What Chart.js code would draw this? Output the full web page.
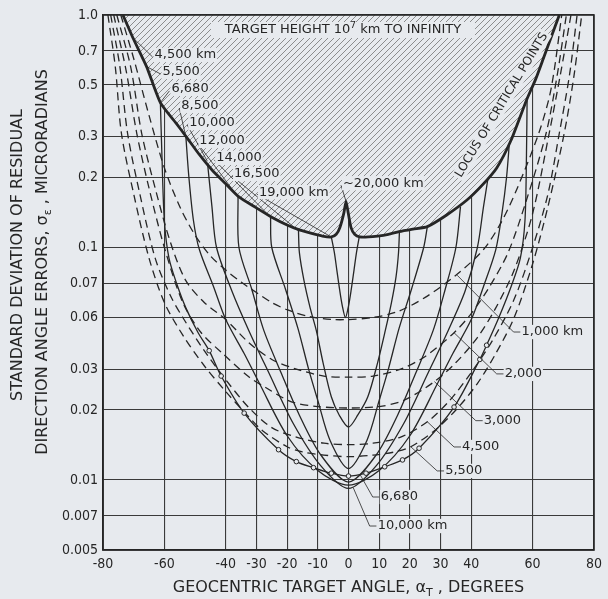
<!DOCTYPE html>
<html>
<head>
<meta charset="utf-8">
<script src="https://cdn.jsdelivr.net/npm/chart.js@4/dist/chart.umd.min.js"></script>
<style>
  html, body { margin: 0; padding: 0; background: #e7eaee; }
  canvas { display: block; }
</style>
</head>
<body>
<canvas id="chart" width="608" height="599"></canvas>
<script>
// tick positions and labels
const X_TICKS = [-80, -60, -40, -30, -20, -10, 0, 10, 20, 30, 40, 60, 80];
const Y_TICKS = [0.005, 0.007, 0.01, 0.02, 0.03, 0.05, 0.07, 0.1, 0.2, 0.3, 0.5, 0.7, 1.0];
const Y_TICK_LABELS = ['0.005', '0.007', '0.01', '0.02', '0.03', '0.06', '0.07', '0.1', '0.2', '0.3', '0.5', '0.7', '1.0'];

// locus of critical points  [angle deg, sigma microrad]
const LOCUS = [[-73.5,1.0],[-70.3,0.8],[-65.8,0.6],[-61.3,0.42],[-56,0.34],[-52.9,0.30],[-48.5,0.25],[-44.4,0.215],
  [-40,0.188],[-35.7,0.165],[-30,0.148],[-25,0.135],[-20,0.125],[-16,0.119],[-12,0.115],[-8.5,0.112],[-5.6,0.111],
  [-4,0.114],[-2.8,0.122],[-1.5,0.141],[-0.8,0.158],[-0.1,0.141],[0.8,0.122],[2,0.114],[3.7,0.111],[6.5,0.111],
  [9.5,0.112],[13,0.114],[16.5,0.117],[21,0.12],[25.7,0.123],[32,0.138],[38.6,0.16],[43.5,0.185],[48.3,0.22],
  [53,0.29],[58,0.43],[61,0.53],[63.5,0.65],[66,0.8],[68.7,1.0]];

// dashed curves (low target heights)
const H1000 = [[-74.2,1.0],[-70,0.65],[-65,0.37],[-60,0.22],[-55,0.15],[-50,0.113],[-45,0.092],[-40,0.080],[-35,0.071],
  [-30,0.064],[-25,0.058],[-20,0.054],[-13,0.0505],[-5,0.049],[0,0.049],[8,0.050],[16,0.053],[25,0.061],[35,0.076],
  [44,0.098],[50,0.13],[55,0.18],[62,0.31],[66,0.48],[69.5,1.0]];
const H2000 = [[-75.5,1.0],[-71,0.6],[-67.4,0.31],[-63,0.18],[-58,0.105],[-53,0.072],[-47,0.058],[-40,0.049],
  [-32.5,0.039],[-25,0.033],[-17,0.030],[-8,0.028],[0,0.0277],[8,0.028],[17,0.030],[25,0.034],[34.4,0.043],
  [40,0.052],[46,0.068],[52,0.095],[58,0.16],[64.4,0.31],[68,0.55],[71,1.0]];
const H3000 = [[-76.5,1.0],[-72.5,0.58],[-69,0.31],[-65,0.18],[-60,0.10],[-54,0.058],[-48,0.043],[-41,0.035],
  [-32.5,0.0278],[-27,0.025],[-18.6,0.0217],[-10,0.0207],[0,0.0204],[10,0.0207],[18,0.022],[28,0.0265],[35,0.032],
  [42,0.041],[48,0.055],[54,0.08],[60,0.14],[65.4,0.31],[69,0.55],[72.5,1.0]];
const H4500 = [[-77.5,1.0],[-74.5,0.6],[-72,0.31],[-68,0.17],[-63,0.09],[-58,0.062],[-54,0.05],[-47,0.036],[-40,0.027],
  [-32.5,0.0205],[-25,0.0168],[-17,0.0153],[-8,0.0144],[0,0.0142],[8,0.0144],[17,0.0153],[25.7,0.0178],[33,0.022],
  [40,0.029],[47,0.04],[54,0.06],[60,0.1],[65,0.17],[68.7,0.31],[72,0.55],[74.5,1.0]];
const H5500 = [[-78.4,1.0],[-76,0.6],[-74,0.31],[-70,0.17],[-65,0.09],[-60,0.058],[-54,0.042],[-47,0.031],[-40,0.024],
  [-33,0.019],[-28,0.0163],[-20,0.0139],[-15,0.0132],[-8,0.0128],[0,0.0126],[8,0.0128],[15,0.0132],[20.3,0.0139],
  [28,0.0163],[35,0.02],[42,0.026],[48,0.035],[54,0.05],[60,0.085],[65,0.15],[70.3,0.31],[73.5,0.55],[76,1.0]];

// solid curves, each starts and ends on the locus
const H6680 = [[-61.3,0.42],[-60.8,0.25],[-60,0.13],[-58.5,0.09],[-56,0.07],[-53,0.055],[-49,0.043],[-45.4,0.036],
  [-41.5,0.028],[-34,0.0194],[-22.8,0.0135],[-17,0.012],[-11.4,0.0113],[-5.6,0.0107],[0,0.0104],[5.7,0.0107],
  [11.8,0.0114],[17.6,0.0122],[23,0.0137],[34.4,0.0206],[42.8,0.033],[45,0.038],[49,0.05],[53,0.068],[56,0.09],
  [57.5,0.13],[58,0.25],[58.2,0.43]];
const H8500 = [[-53,0.30],[-52,0.2],[-50.5,0.13],[-48.6,0.098],[-44,0.068],[-40,0.049],[-34,0.035],[-29,0.026],
  [-20,0.0155],[-10,0.011],[0,0.0095],[10,0.011],[20,0.0155],[29,0.026],[34,0.035],[40,0.049],[44,0.068],[48,0.098],
  [50,0.14],[51.5,0.2],[52.5,0.29]];
const H10000 = [[-46,0.235],[-44.5,0.15],[-43,0.1],[-38,0.065],[-32.5,0.044],[-26,0.029],[-18,0.0175],[-9,0.0115],
  [0,0.0092],[9,0.0115],[18,0.0175],[26,0.029],[32.5,0.044],[38,0.065],[42,0.1],[44,0.15],[45.5,0.2]];
const H12000 = [[-36,0.165],[-35.7,0.1],[-31.5,0.066],[-27.6,0.044],[-22,0.029],[-16,0.019],[-9,0.0128],[0,0.0098],
  [9,0.0128],[16,0.019],[22,0.029],[27.6,0.044],[31.5,0.066],[35,0.1],[36.5,0.15]];
const H14000 = [[-25.4,0.135],[-25,0.1],[-20.5,0.066],[-16.5,0.045],[-13,0.03],[-10,0.022],[-6,0.0148],[0,0.0112],
  [6,0.0148],[10,0.022],[13,0.03],[16.5,0.045],[20.5,0.066],[24.5,0.1],[25.7,0.123]];
const H16500 = [[-16.3,0.118],[-16,0.095],[-14.5,0.072],[-12.5,0.055],[-10.5,0.044],[-8.3,0.032],[-5.6,0.0228],
  [-3,0.019],[0,0.0169],[3,0.019],[6.3,0.0228],[9.5,0.032],[12,0.044],[14,0.058],[15.5,0.075],[16.3,0.095],[16.6,0.117]];
const H19000 = [[-5.6,0.111],[-4.6,0.095],[-3.8,0.08],[-2.9,0.066],[-2,0.056],[-1,0.05],[0,0.056],[0.9,0.066],
  [1.8,0.08],[2.6,0.095],[3.5,0.111]];

// annotations: [text, label x, label y, curve x, curve y]
const LEFT_NOTES = [
  ['4,500 km', -63.2, 0.673, -70.3, 0.8],
  ['5,500', -60.6, 0.569, -65.8, 0.6],
  ['6,680', -57.7, 0.481, -61.3, 0.42],
  ['8,500', -54.5, 0.406, -53, 0.30],
  ['10,000', -51.9, 0.343, -46, 0.235],
  ['12,000', -48.6, 0.287, -36, 0.165],
  ['14,000', -43.1, 0.243, -25.4, 0.135],
  ['16,500', -37.3, 0.207, -16.3, 0.118],
  ['19,000 km', -29.2, 0.173, -5.6, 0.111],
  ['~20,000 km', -1.8, 0.189, -0.8, 0.158]
];
const RIGHT_NOTES = [
  ['1,000 km', 56.4, 0.0433, 35.4, 0.076],
  ['2,000', 50.9, 0.0286, 34.4, 0.043],
  ['3,000', 44.1, 0.0180, 28, 0.0265],
  ['4,500', 37.0, 0.01387, 25.7, 0.0178],
  ['5,500', 31.5, 0.01094, 20.3, 0.0139],
  ['6,680', 10.5, 0.00845, 3.7, 0.0106],
  ['10,000 km', 9.5, 0.00634, 1.5, 0.0093]
];

const INK = '#262626';
const PAPER = '#e7eaee';
const FONT = "'DejaVu Sans', sans-serif";

// hatch pattern for the region above the locus
function makeHatch(ctx) {
    const tile = document.createElement('canvas');
    tile.width = 6;
    tile.height = 6;
    const t = tile.getContext('2d');
    t.fillStyle = PAPER;
    t.fillRect(0, 0, 6, 6);
    t.strokeStyle = '#747474';
    t.lineWidth = 0.8;
    t.beginPath();
    t.moveTo(0, 6); t.lineTo(6, 0);
    t.moveTo(-1, 1); t.lineTo(1, -1);
    t.moveTo(5, 7); t.lineTo(7, 5);
    t.stroke();
    return ctx.createPattern(tile, 'repeat');
}

function pts(list) {
    return list.map(p => ({ x: p[0], y: p[1] }));
}

function solid(list, width) {
    return {
        data: pts(list),
        showLine: true,
        borderColor: INK,
        borderWidth: width || 1.3,
        pointRadius: 0,
        tension: 0.3,
        fill: false
    };
}

function dashed(list) {
    const ds = solid(list, 1.3);
    ds.borderDash = [8, 5];
    return ds;
}

// text with sub/superscripts: parts = [[text, kind]], kind 0 normal, 1 sub, 2 sup
function drawRich(ctx, parts, x, y, size, align) {
    const small = Math.round(size * 0.7);
    let total = 0;
    parts.forEach(([t, k]) => {
        ctx.font = (k ? small : size) + 'px ' + FONT;
        total += ctx.measureText(t).width;
    });
    let cx = align === 'center' ? x - total / 2 : x;
    ctx.textAlign = 'left';
    ctx.textBaseline = 'middle';
    parts.forEach(([t, k]) => {
        ctx.font = (k ? small : size) + 'px ' + FONT;
        const dy = k === 1 ? size * 0.3 : (k === 2 ? -size * 0.35 : 0);
        ctx.fillText(t, cx, y + dy);
        cx += ctx.measureText(t).width;
    });
    return total;
}

function boxedText(ctx, text, x, y, size) {
    ctx.font = size + 'px ' + FONT;
    const w = ctx.measureText(text).width;
    ctx.fillStyle = PAPER;
    ctx.fillRect(x - 1, y - size * 0.55, w + 2, size * 1.1);
    ctx.fillStyle = INK;
    ctx.textAlign = 'left';
    ctx.textBaseline = 'middle';
    ctx.fillText(text, x, y);
}

const notesPlugin = {
    id: 'notes',
    afterDatasetsDraw(chart) {
        const { ctx, chartArea: a, scales } = chart;
        const X = v => scales.x.getPixelForValue(v);
        const Y = v => scales.y.getPixelForValue(v);
        ctx.save();

        // frame
        ctx.strokeStyle = INK;
        ctx.lineWidth = 1.6;
        ctx.strokeRect(a.left, a.top, a.right - a.left, a.bottom - a.top);

        // leaders
        ctx.lineWidth = 0.8;
        ctx.beginPath();
        LEFT_NOTES.forEach(n => {
            ctx.moveTo(X(n[1]) - 2, Y(n[2]) + 2);
            ctx.lineTo(X(n[3]), Y(n[4]));
        });
        RIGHT_NOTES.forEach(n => {
            ctx.moveTo(X(n[3]), Y(n[4]));
            ctx.lineTo(X(n[1]) - 8, Y(n[2]));
            ctx.lineTo(X(n[1]) - 1, Y(n[2]));
        });
        ctx.stroke();

        LEFT_NOTES.forEach(n => boxedText(ctx, n[0], X(n[1]), Y(n[2]), 13));
        RIGHT_NOTES.forEach(n => boxedText(ctx, n[0], X(n[1]), Y(n[2]), 13));

        // note at top of hatched area
        const tx = X(-1.8), ty = Y(0.862);
        ctx.fillStyle = PAPER;
        ctx.fillRect(tx - 132, ty - 8, 264, 16);
        ctx.fillStyle = INK;
        drawRich(ctx, [['TARGET HEIGHT 10', 0], ['7', 2], [' km TO INFINITY', 0]], tx, ty, 13, 'center');

        // locus label, rotated along the curve
        ctx.save();
        ctx.translate(X(49.9), Y(0.41));
        ctx.rotate(-58.7 * Math.PI / 180);
        ctx.font = '12px ' + FONT;
        const lw = ctx.measureText('LOCUS OF CRITICAL POINTS').width;
        ctx.fillStyle = PAPER;
        ctx.fillRect(-lw / 2 - 2, -7, lw + 4, 14);
        ctx.fillStyle = INK;
        ctx.textAlign = 'center';
        ctx.textBaseline = 'middle';
        ctx.fillText('LOCUS OF CRITICAL POINTS', 0, 0);
        ctx.restore();

        ctx.restore();
    },
    afterDraw(chart) {
        const { ctx, chartArea: a } = chart;
        ctx.save();
        ctx.fillStyle = INK;
        drawRich(ctx, [['GEOCENTRIC TARGET ANGLE, α', 0], ['T', 1], [' , DEGREES', 0]],
            (a.left + a.right) / 2, 588, 16, 'center');
        ctx.translate(18, 255);
        ctx.rotate(-Math.PI / 2);
        drawRich(ctx, [['STANDARD DEVIATION OF RESIDUAL', 0]], 0, 0, 16, 'center');
        ctx.restore();
        ctx.save();
        ctx.fillStyle = INK;
        ctx.translate(43, 262);
        ctx.rotate(-Math.PI / 2);
        drawRich(ctx, [['DIRECTION ANGLE ERRORS, σ', 0], ['ε', 1], [' , MICRORADIANS', 0]], 0, 0, 16, 'center');
        ctx.restore();
    },
    beforeDraw(chart) {
        const { ctx, width, height } = chart;
        ctx.save();
        ctx.fillStyle = PAPER;
        ctx.fillRect(0, 0, width, height);
        ctx.restore();
    }
};

const canvas = document.getElementById('chart');
const ctx = canvas.getContext('2d');

const locusSet = solid(LOCUS, 2.8);
locusSet.fill = 'end';
locusSet.backgroundColor = makeHatch(ctx);
locusSet.tension = 0.2;

const markSet = solid(H6680, 1.3);
markSet.pointRadius = c => (c.raw && Math.abs(c.raw.x) <= 45.5) ? 2.3 : 0;
markSet.pointBackgroundColor = PAPER;
markSet.pointBorderColor = INK;
markSet.pointBorderWidth = 1;

new Chart(ctx, {
    type: 'scatter',
    data: {
        datasets: [
            locusSet,
            markSet,
            solid(H8500),
            solid(H10000),
            solid(H12000),
            solid(H14000),
            solid(H16500),
            solid(H19000),
            dashed(H1000),
            dashed(H2000),
            dashed(H3000),
            dashed(H4500),
            dashed(H5500)
        ]
    },
    options: {
        responsive: false,
        animation: false,
        events: [],
        layout: { padding: { left: 0, right: 10, top: 15, bottom: 0 } },
        plugins: {
            legend: { display: false },
            tooltip: { enabled: false }
        },
        scales: {
            x: {
                type: 'linear',
                min: -80,
                max: 80,
                afterBuildTicks: s => { s.ticks = X_TICKS.map(v => ({ value: v })); },
                afterFit: s => { s.height = 49; },
                grid: { color: '#3a3a3a', lineWidth: 1.1, drawTicks: false },
                border: { display: true, color: INK, width: 1.6 },
                ticks: {
                    autoSkip: false,
                    maxRotation: 0,
                    padding: 6,
                    color: INK,
                    font: { family: "'DejaVu Sans Condensed', 'DejaVu Sans', sans-serif", size: 14 },
                    callback: v => String(v)
                }
            },
            y: {
                type: 'logarithmic',
                min: 0.005,
                max: 1,
                afterBuildTicks: s => { s.ticks = Y_TICKS.map(v => ({ value: v })); },
                afterFit: s => { s.width = 103; },
                grid: { color: '#3a3a3a', lineWidth: 1.1, drawTicks: false },
                border: { display: true, color: INK, width: 1.6 },
                ticks: {
                    autoSkip: false,
                    padding: 5,
                    color: INK,
                    font: { family: "'DejaVu Sans Condensed', 'DejaVu Sans', sans-serif", size: 14 },
                    callback: (v, i) => Y_TICK_LABELS[i]
                }
            }
        }
    },
    plugins: [notesPlugin]
});
</script>
</body>
</html>
